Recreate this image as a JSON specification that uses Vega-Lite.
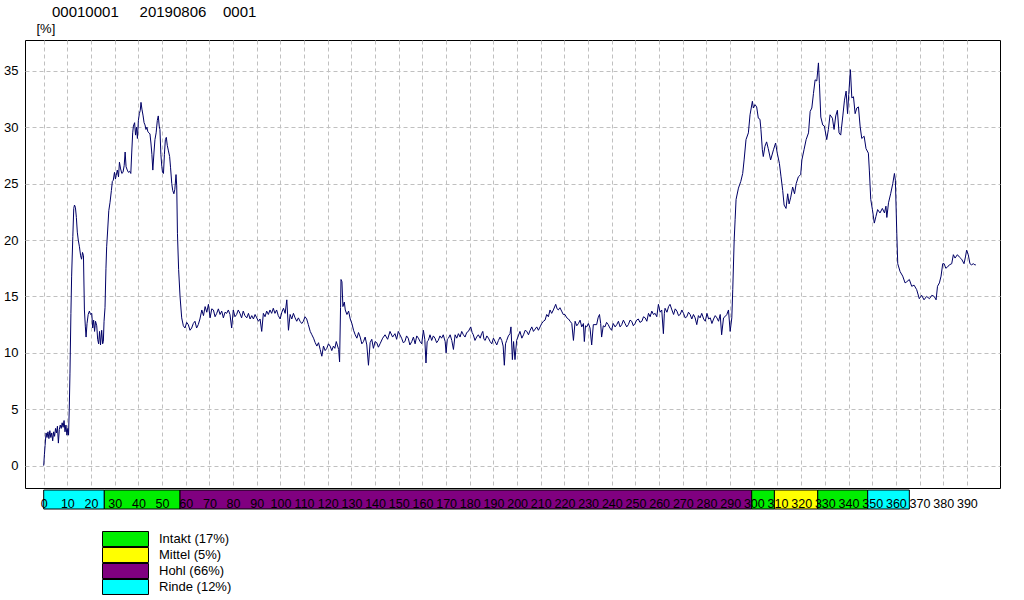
{
  "$schema": "https://vega.github.io/schema/vega-lite/v6.json",
  "background": "white",
  "padding": {"left": 3, "top": 4, "right": 0, "bottom": 0},
  "config": {"view": {"stroke": null}, "font": "Liberation Sans", "concat": {"spacing": 0}},
  "vconcat": [
    {
      "width": 975,
      "height": 448,
      "view": {"stroke": "black", "strokeWidth": 1},
      "title": {"text": "00010001\u00a0\u00a0\u00a0\u00a0\u00a020190806\u00a0\u00a0\u00a0\u00a00001", "anchor": "start", "frame": "group", "dx": 27, "fontSize": 15, "fontWeight": "normal", "color": "black", "baseline": "alphabetic", "offset": -10},
      "data": {
        "values": "x,y\n0.0,0.0\n0.3,1.0\n0.6,1.8\n1.0,2.9\n1.4,2.5\n1.8,3.0\n2.2,2.4\n2.6,3.1\n3.0,2.5\n3.4,2.9\n3.8,2.2\n4.2,3.0\n4.6,2.6\n5.0,3.3\n5.4,2.9\n5.8,3.5\n6.2,2.0\n6.6,3.2\n7.0,3.6\n7.4,3.3\n7.8,3.8\n8.2,3.4\n8.6,4.0\n9.0,3.0\n9.4,3.6\n9.8,2.7\n10.2,3.3\n10.5,2.7\n10.8,5.0\n11.1,8.2\n11.5,13.5\n11.8,16.8\n12.3,20.3\n12.7,22.8\n13.0,23.1\n13.4,22.9\n13.8,22.0\n14.2,20.7\n14.6,20.0\n15.1,19.4\n15.6,18.6\n16.0,18.3\n16.4,18.9\n16.8,18.6\n17.2,13.8\n17.6,12.3\n17.9,11.4\n18.3,12.6\n18.8,13.4\n19.3,13.7\n19.8,13.4\n20.3,13.5\n20.7,12.2\n21.1,12.9\n21.5,11.9\n21.9,12.8\n22.4,12.4\n22.8,11.2\n23.2,10.8\n23.6,11.9\n24.0,10.7\n24.5,12.0\n24.9,10.8\n25.2,11.0\n25.5,12.8\n25.9,14.0\n26.3,17.5\n26.6,19.4\n27.0,20.8\n27.5,22.6\n28.0,23.3\n28.6,24.4\n29.0,25.2\n29.4,25.3\n29.9,26.0\n30.3,25.4\n30.6,25.7\n31.1,26.2\n31.6,25.6\n32.0,26.9\n32.5,26.3\n33.0,25.9\n33.5,26.0\n34.0,26.6\n34.4,27.8\n34.8,26.5\n35.3,26.2\n35.8,26.0\n36.3,26.1\n36.8,25.9\n37.2,27.8\n37.6,29.5\n37.9,30.1\n38.4,30.4\n38.8,29.3\n39.2,30.0\n39.6,29.0\n40.0,30.6\n40.4,31.2\n40.8,31.5\n41.1,32.2\n41.5,31.6\n42.0,31.0\n42.4,30.4\n42.8,30.2\n43.2,29.8\n43.6,30.0\n44.0,29.6\n44.5,29.5\n44.9,29.4\n45.3,28.6\n45.7,27.6\n46.1,26.2\n46.6,27.8\n47.0,28.9\n47.5,29.5\n48.0,30.6\n48.4,31.0\n48.8,30.1\n49.1,29.8\n49.5,27.6\n49.9,26.5\n50.2,26.0\n50.6,25.9\n51.0,27.6\n51.4,28.9\n51.8,29.1\n52.2,28.4\n52.7,27.9\n53.2,27.4\n53.6,26.4\n54.1,25.0\n54.5,24.4\n55.0,24.1\n55.4,24.5\n55.9,25.8\n56.2,24.8\n56.5,20.6\n57.0,17.4\n57.6,15.0\n58.3,13.1\n59.0,12.4\n59.7,12.2\n60.4,12.7\n61.1,12.5\n61.8,12.0\n62.5,12.2\n63.2,12.6\n63.9,12.8\n64.6,12.2\n65.3,12.5\n66.0,13.0\n66.8,13.8\n67.5,13.3\n68.2,14.1\n68.9,13.6\n69.6,14.3\n70.3,13.1\n71.0,13.9\n71.7,13.8\n72.4,13.2\n73.1,13.5\n73.8,13.9\n74.5,13.4\n75.2,13.7\n75.9,13.1\n76.6,13.6\n77.3,13.5\n78.0,13.8\n78.7,13.4\n79.4,12.2\n80.1,13.8\n80.8,13.2\n81.5,13.4\n82.2,13.8\n82.9,13.5\n83.6,13.1\n84.3,13.7\n85.0,13.3\n85.8,13.1\n86.5,13.5\n87.2,13.0\n87.9,13.3\n88.6,13.0\n89.3,13.4\n90.0,13.1\n90.7,12.8\n91.4,13.0\n92.1,11.9\n92.8,13.5\n93.5,13.2\n94.2,13.7\n94.9,13.4\n95.6,13.8\n96.3,13.5\n97.0,13.95\n97.7,13.5\n98.4,13.8\n99.1,13.3\n99.9,13.0\n100.6,13.6\n101.3,13.95\n102.0,13.5\n102.7,14.7\n103.4,12.0\n104.1,13.4\n104.8,13.0\n105.5,13.5\n106.2,13.1\n106.9,12.8\n107.6,13.1\n108.3,12.8\n109.0,12.6\n109.7,12.8\n110.4,13.2\n111.1,13.0\n111.8,12.5\n112.6,11.9\n113.3,11.6\n114.0,11.3\n114.7,10.9\n115.4,10.6\n116.1,10.9\n116.8,10.3\n117.5,9.7\n118.2,10.6\n118.9,10.2\n119.6,10.4\n120.3,10.8\n121.0,10.6\n121.7,10.2\n122.4,10.6\n123.0,10.4\n123.6,11.0\n124.6,10.3\n125.0,9.2\n125.4,14.0\n125.6,16.5\n126.0,16.3\n126.4,14.1\n127.0,14.5\n127.4,13.8\n128.1,13.4\n128.8,13.7\n129.5,13.0\n130.2,12.6\n130.9,12.0\n131.6,11.6\n132.3,11.3\n133.0,11.8\n133.7,11.4\n134.4,10.8\n135.1,11.0\n135.8,11.4\n136.5,10.7\n137.2,8.9\n137.9,10.9\n138.6,11.2\n139.3,10.4\n140.0,11.0\n140.7,10.9\n141.4,10.5\n142.1,10.8\n143.2,11.3\n144.2,11.6\n145.3,11.2\n146.3,11.9\n147.4,11.4\n148.4,11.7\n149.1,11.2\n149.8,11.9\n150.5,11.6\n151.2,11.3\n151.9,10.9\n152.6,11.0\n153.3,11.5\n154.0,11.3\n154.7,10.7\n155.5,11.0\n156.2,11.4\n156.9,10.8\n157.6,11.5\n158.3,11.3\n159.0,11.0\n159.7,10.8\n160.4,12.0\n161.0,11.2\n161.5,9.1\n162.0,11.0\n162.5,11.1\n163.2,11.6\n163.9,11.1\n164.6,11.5\n165.3,11.3\n166.0,10.9\n166.7,11.1\n167.4,11.5\n168.1,11.3\n168.8,11.6\n169.6,11.0\n170.0,10.0\n170.5,11.2\n171.0,11.3\n171.7,11.6\n172.4,11.1\n173.1,10.3\n173.8,11.6\n174.5,11.3\n175.2,11.7\n175.9,11.4\n176.6,11.9\n177.3,11.6\n178.0,11.4\n178.7,11.8\n179.4,11.9\n180.4,12.3\n181.0,11.8\n181.5,11.6\n182.2,11.1\n182.9,11.4\n183.6,11.6\n184.4,11.3\n185.0,11.7\n185.5,11.9\n186.0,11.2\n186.5,11.1\n187.2,11.5\n187.9,11.3\n188.6,11.0\n189.3,10.8\n190.0,11.3\n190.7,11.0\n191.4,10.7\n192.1,11.1\n192.8,11.4\n193.5,11.1\n194.1,10.6\n194.6,8.9\n195.1,10.8\n195.6,11.1\n196.3,11.5\n197.0,11.7\n197.4,12.3\n198.0,9.4\n198.5,11.0\n199.1,9.4\n199.8,11.1\n200.5,11.5\n201.2,11.9\n202.0,11.3\n202.7,11.6\n203.4,12.0\n204.1,11.9\n204.8,11.6\n205.5,12.0\n206.2,12.3\n206.9,11.9\n207.6,12.1\n208.3,12.3\n209.0,12.0\n209.7,12.3\n210.4,12.6\n211.1,12.8\n211.8,12.9\n212.5,13.4\n213.2,13.2\n213.9,13.8\n214.6,13.5\n215.3,13.8\n216.3,14.3\n216.9,13.9\n217.4,13.8\n218.1,14.0\n218.8,13.7\n219.5,13.4\n220.2,13.4\n221.0,13.1\n221.7,13.0\n222.4,12.8\n223.1,12.6\n223.8,11.1\n224.5,12.8\n225.2,12.4\n225.9,12.6\n226.6,12.9\n227.3,12.3\n228.0,12.6\n228.4,11.0\n228.9,12.4\n229.4,12.3\n230.1,12.6\n230.8,12.2\n231.5,10.7\n232.2,12.5\n232.9,12.5\n233.6,12.5\n234.2,13.1\n234.8,13.4\n235.3,12.6\n235.7,11.4\n236.4,12.4\n237.1,12.3\n237.8,12.7\n238.5,12.5\n239.2,12.2\n239.9,12.0\n240.6,12.6\n241.4,12.3\n242.1,12.5\n242.8,12.8\n243.5,12.3\n244.2,12.5\n244.9,12.9\n245.6,12.6\n246.3,12.3\n247.0,12.5\n247.7,12.9\n248.4,12.8\n249.1,12.4\n249.8,12.6\n250.5,12.9\n251.2,13.0\n251.9,12.7\n252.7,12.8\n253.4,13.2\n254.1,13.1\n254.8,12.8\n255.5,13.5\n256.2,13.2\n256.9,13.7\n257.6,13.4\n258.3,13.5\n259.0,13.2\n259.7,14.3\n260.4,13.6\n261.1,13.8\n261.8,11.7\n262.2,13.5\n262.5,13.95\n263.3,13.6\n264.0,14.1\n264.6,14.3\n265.4,13.8\n266.1,13.4\n266.8,13.9\n267.5,13.7\n268.2,13.3\n268.9,13.4\n269.6,13.8\n270.3,13.5\n271.0,13.1\n271.7,13.2\n272.4,13.6\n273.1,13.4\n273.8,13.0\n274.5,13.4\n275.2,13.1\n275.9,12.5\n276.6,13.3\n277.3,13.1\n278.0,13.5\n278.8,13.0\n279.5,12.8\n280.2,13.5\n280.9,13.0\n281.6,13.1\n282.3,12.6\n283.0,13.0\n283.7,13.3\n284.4,13.1\n285.1,12.8\n285.8,13.4\n286.4,11.6\n287.2,13.1\n287.8,13.2\n288.6,13.4\n289.3,13.8\n290.0,11.9\n290.7,13.1\n291.1,15.6\n291.7,20.0\n292.1,21.8\n292.5,23.6\n293.5,24.6\n294.5,25.2\n295.3,25.9\n295.9,27.1\n296.7,28.9\n297.7,29.5\n298.4,31.1\n299.4,32.3\n299.8,31.7\n300.5,32.0\n301.2,31.8\n301.9,30.8\n302.6,30.7\n303.0,29.8\n303.6,28.0\n304.0,27.4\n304.7,28.3\n305.4,28.7\n306.1,28.1\n307.1,27.1\n308.3,28.0\n309.2,28.6\n309.9,27.7\n310.8,26.8\n311.5,25.6\n312.2,24.4\n312.8,23.1\n313.6,22.8\n314.3,24.1\n314.9,23.2\n315.6,23.8\n316.4,24.7\n317.2,24.1\n317.9,25.0\n318.8,25.6\n319.8,25.8\n320.3,27.1\n321.2,28.0\n322.1,28.9\n323.1,29.5\n323.8,31.4\n324.5,31.7\n325.2,33.0\n325.9,34.2\n326.6,34.1\n327.3,35.7\n327.7,33.9\n328.3,30.9\n329.1,30.2\n329.8,30.1\n330.8,28.9\n331.5,29.8\n332.2,31.1\n333.2,30.8\n333.9,29.8\n334.6,31.0\n335.3,31.5\n336.0,29.5\n336.7,29.3\n337.6,31.0\n338.3,32.4\n339.0,33.2\n339.6,31.2\n340.1,32.9\n340.8,35.1\n341.4,32.6\n342.1,32.7\n342.8,31.2\n343.5,31.7\n344.2,31.8\n344.9,30.1\n345.6,29.0\n346.6,29.2\n347.4,28.1\n348.4,27.7\n348.8,26.2\n349.4,23.6\n350.1,22.7\n350.9,21.5\n351.6,22.1\n352.3,22.7\n353.3,22.4\n354.3,22.8\n355.2,22.4\n355.8,23.0\n356.2,22.0\n356.9,23.3\n357.8,24.1\n358.7,25.0\n359.4,25.9\n359.8,25.3\n360.4,20.6\n360.8,17.9\n361.8,17.2\n362.9,16.8\n363.9,16.2\n364.6,16.3\n365.7,16.5\n366.7,15.9\n367.7,16.0\n368.8,15.6\n369.9,14.8\n370.9,15.1\n371.9,14.7\n373.0,15.0\n374.2,14.8\n375.2,15.1\n376.2,15.0\n377.0,14.7\n377.6,15.9\n378.4,16.2\n379.1,16.8\n379.8,17.9\n380.4,17.9\n381.1,17.5\n381.8,17.6\n382.6,17.8\n383.6,17.9\n384.3,18.7\n385.0,18.4\n386.0,18.7\n386.8,18.5\n387.8,18.3\n388.8,17.9\n389.4,18.5\n389.9,19.1\n390.6,18.7\n391.3,17.9\n392.0,17.8\n392.7,17.9\n393.4,17.8\n393.8,17.8",
        "format": {"type": "csv", "parse": {"x": "number", "y": "number"}}
      },
      "mark": {"type": "line", "color": "#000066", "strokeWidth": 1},
      "encoding": {
        "x": {
          "field": "x", "type": "quantitative",
          "scale": {"domain": [-7.9, 404], "nice": false, "zero": false},
          "axis": {"values": [0,10,20,30,40,50,60,70,80,90,100,110,120,130,140,150,160,170,180,190,200,210,220,230,240,250,260,270,280,290,300,310,320,330,340,350,360,370,380,390],
                   "labels": false, "ticks": false, "domain": false, "title": null, "grid": true, "gridColor": "#c0c0c0", "gridDash": [4, 3], "gridWidth": 1}
        },
        "y": {
          "field": "y", "type": "quantitative",
          "scale": {"domain": [-1.98, 37.73], "nice": false, "zero": false},
          "axis": {"values": [0,5,10,15,20,25,30,35], "title": "[%]", "titleAngle": 0, "titleX": 11, "titleY": -8, "titleAlign": "left", "titleBaseline": "alphabetic", "titleFontSize": 13, "titleFontWeight": "normal", "titleColor": "black",
                   "labelFontSize": 13, "labelColor": "black", "labelPadding": 7, "ticks": false, "domain": false, "grid": true, "gridColor": "#c0c0c0", "gridDash": [4, 3], "gridWidth": 1}
        }
      }
    },
    {
      "width": 975,
      "height": 19,
      "data": {"values": [
        {"start": 0, "end": 25.6, "klasse": "Rinde (12%)"},
        {"start": 25.6, "end": 57.6, "klasse": "Intakt (17%)"},
        {"start": 57.6, "end": 299.1, "klasse": "Hohl (66%)"},
        {"start": 299.1, "end": 308.7, "klasse": "Intakt (17%)"},
        {"start": 308.7, "end": 327.0, "klasse": "Mittel (5%)"},
        {"start": 327.0, "end": 348.1, "klasse": "Intakt (17%)"},
        {"start": 348.1, "end": 365.7, "klasse": "Rinde (12%)"}
      ]},
      "mark": {"type": "rect", "stroke": "black", "strokeWidth": 1},
      "encoding": {
        "x": {
          "field": "start", "type": "quantitative",
          "scale": {"domain": [-7.9, 404], "nice": false, "zero": false},
          "axis": {"orient": "bottom", "values": [0,10,20,30,40,50,60,70,80,90,100,110,120,130,140,150,160,170,180,190,200,210,220,230,240,250,260,270,280,290,300,310,320,330,340,350,360,370,380,390],
                   "title": null, "grid": false, "ticks": false, "tickSize": 0, "domain": false, "labelPadding": -1.5, "labelBaseline": "alphabetic", "labelFontSize": 12.5, "labelColor": "black",
                   "labelOverlap": false, "labelFlush": false, "labelBound": false, "zindex": 1}
        },
        "x2": {"field": "end"},
        "fill": {
          "field": "klasse", "type": "nominal",
          "scale": {"domain": ["Intakt (17%)", "Mittel (5%)", "Hohl (66%)", "Rinde (12%)"], "range": ["#00ee00", "#ffff00", "#800080", "#00ffff"]},
          "legend": {"title": null, "orient": "none", "legendX": 77, "legendY": 491, "direction": "vertical",
                     "symbolType": "M-1,-0.326L1,-0.326L1,0.326L-1,0.326Z", "symbolSize": 2116, "symbolStrokeColor": "black", "symbolStrokeWidth": 1, "symbolOpacity": 1,
                     "clipHeight": 16, "rowPadding": 0, "labelFontSize": 13, "labelColor": "black", "labelOffset": 10, "padding": 0}
        }
      }
    }
  ]
}
